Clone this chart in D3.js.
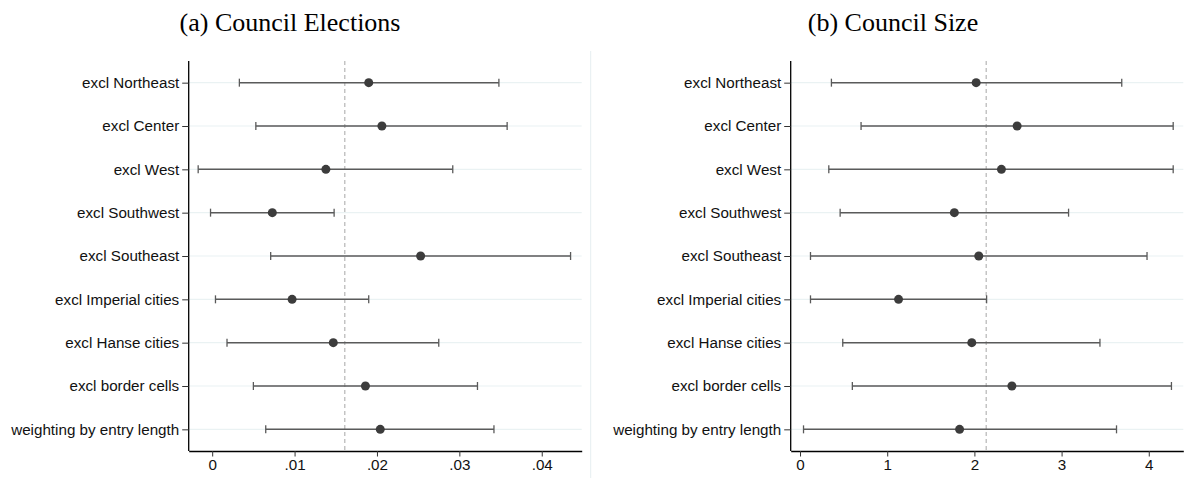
<!DOCTYPE html>
<html>
<head>
<meta charset="utf-8">
<script src="https://cdn.jsdelivr.net/npm/d3@7"></script>
<style>
  html, body { margin: 0; padding: 0; background: #ffffff; }
  svg { display: block; }
</style>
</head>
<body>
<svg id="chart" width="1187" height="478"></svg>
<script>
// Robustness checks: estimates and confidence intervals
const specs = [
  "excl Northeast", "excl Center", "excl West", "excl Southwest", "excl Southeast",
  "excl Imperial cities", "excl Hanse cities", "excl border cells", "weighting by entry length"
];

// (a) Council Elections
const electEst = [0.0190, 0.0206, 0.0138, 0.0073, 0.0253, 0.0097, 0.0147, 0.0186, 0.0204];
const electLo  = [0.0033, 0.0053, -0.0017, -0.0002, 0.0071, 0.0004, 0.0018, 0.0050, 0.0065];
const electHi  = [0.0348, 0.0358, 0.0292, 0.0148, 0.0435, 0.0190, 0.0275, 0.0322, 0.0342];
const electBaseline = 0.0161;
const electTicks = [0, 0.01, 0.02, 0.03, 0.04];
const electTickLabels = ["0", ".01", ".02", ".03", ".04"];

// (b) Council Size
const sizeEst = [2.02, 2.49, 2.31, 1.77, 2.05, 1.13, 1.97, 2.43, 1.83];
const sizeLo  = [0.36, 0.70, 0.33, 0.46, 0.12, 0.12, 0.49, 0.60, 0.04];
const sizeHi  = [3.69, 4.28, 4.28, 3.08, 3.98, 2.14, 3.44, 4.26, 3.63];
const sizeBaseline = 2.135;
const sizeTicks = [0, 1, 2, 3, 4];
const sizeTickLabels = ["0", "1", "2", "3", "4"];

const svg = d3.select("#chart");

const panels = [
  {
    title: "(a) Council Elections", titleX: 290,
    est: electEst, lo: electLo, hi: electHi, base: electBaseline,
    ticks: electTicks, tickLabels: electTickLabels,
    domain: [-0.00285, 0.04485], range: [188.7, 581.7]
  },
  {
    title: "(b) Council Size", titleX: 893,
    est: sizeEst, lo: sizeLo, hi: sizeHi, base: sizeBaseline,
    ticks: sizeTicks, tickLabels: sizeTickLabels,
    domain: [-0.107, 4.396], range: [790.7, 1183.3]
  }
];

const plotTop = 61, plotBottom = 451;
const y = d3.scalePoint().domain(specs).range([plotTop, plotBottom]).padding(0.5);

// faint divider between the two panels
svg.append("line")
  .attr("x1", 590.7).attr("x2", 590.7).attr("y1", 51).attr("y2", 478)
  .attr("stroke", "#e6eef0").attr("stroke-width", 1);

panels.forEach(p => {
  const x = d3.scaleLinear().domain(p.domain).range(p.range);
  const g = svg.append("g");

  // title
  g.append("text")
    .attr("x", p.titleX).attr("y", 31)
    .attr("text-anchor", "middle")
    .attr("font-family", "'Liberation Serif', 'Times New Roman', serif")
    .attr("font-size", 26)
    .attr("fill", "#000")
    .text(p.title);

  // horizontal gridlines
  g.selectAll("line.grid").data(specs).join("line")
    .attr("class", "grid")
    .attr("x1", p.range[0]).attr("x2", p.range[1])
    .attr("y1", d => y(d)).attr("y2", d => y(d))
    .attr("stroke", "#eaf2f3").attr("stroke-width", 1.2);

  // reference line at the baseline estimate
  g.append("line")
    .attr("x1", x(p.base)).attr("x2", x(p.base))
    .attr("y1", plotTop).attr("y2", plotBottom)
    .attr("stroke", "#a6a6a6").attr("stroke-width", 1)
    .attr("stroke-dasharray", "4,3");

  // confidence intervals
  const ci = g.selectAll("g.ci").data(specs).join("g").attr("class", "ci");
  ci.append("line")
    .attr("x1", (d, i) => x(p.lo[i])).attr("x2", (d, i) => x(p.hi[i]))
    .attr("y1", d => y(d)).attr("y2", d => y(d))
    .attr("stroke", "#5a5a5a").attr("stroke-width", 1.5);
  ci.append("line")
    .attr("x1", (d, i) => x(p.lo[i])).attr("x2", (d, i) => x(p.lo[i]))
    .attr("y1", d => y(d) - 4).attr("y2", d => y(d) + 4)
    .attr("stroke", "#5a5a5a").attr("stroke-width", 1.3);
  ci.append("line")
    .attr("x1", (d, i) => x(p.hi[i])).attr("x2", (d, i) => x(p.hi[i]))
    .attr("y1", d => y(d) - 4).attr("y2", d => y(d) + 4)
    .attr("stroke", "#5a5a5a").attr("stroke-width", 1.3);

  // point estimates
  g.selectAll("circle.est").data(specs).join("circle")
    .attr("class", "est")
    .attr("cx", (d, i) => x(p.est[i])).attr("cy", d => y(d))
    .attr("r", 4.5)
    .attr("fill", "#3c3c3c");

  // y axis
  const yAxis = g.append("g")
    .attr("transform", `translate(${p.range[0]},0)`)
    .call(d3.axisLeft(y).tickSize(6.5).tickPadding(3).tickSizeOuter(0));
  yAxis.select(".domain").attr("d", `M0,${plotTop}V${plotBottom}`).attr("stroke", "#000").attr("stroke-width", 1.3);
  yAxis.selectAll(".tick line").attr("stroke", "#333").attr("stroke-width", 1);
  yAxis.selectAll(".tick text")
    .attr("font-family", "'Liberation Sans', Arial, sans-serif")
    .attr("font-size", 15.2).attr("fill", "#111");

  // x axis
  const xAxis = g.append("g")
    .attr("transform", `translate(0,${plotBottom})`)
    .call(d3.axisBottom(x).tickValues(p.ticks)
      .tickFormat((d, i) => p.tickLabels[i])
      .tickSize(5.5).tickPadding(3).tickSizeOuter(0));
  xAxis.select(".domain").attr("stroke", "#000").attr("stroke-width", 1.3);
  xAxis.selectAll(".tick line").attr("stroke", "#333").attr("stroke-width", 1);
  xAxis.selectAll(".tick text")
    .attr("font-family", "'Liberation Sans', Arial, sans-serif")
    .attr("font-size", 15.2).attr("fill", "#111");
});
</script>
</body>
</html>
